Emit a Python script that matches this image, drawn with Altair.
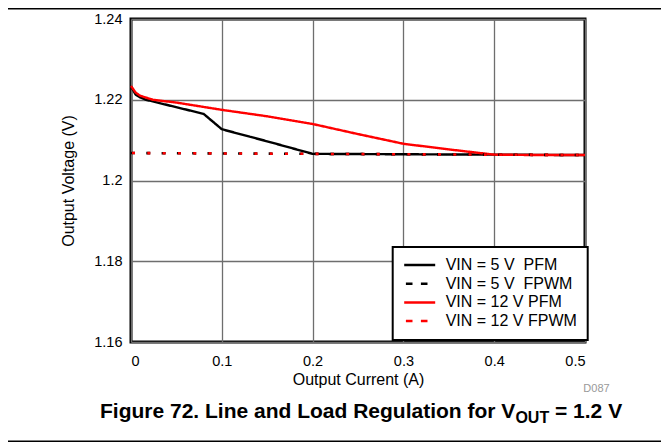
import altair as alt
import pandas as pd

# ---- data ----
cur_5v_pfm = [0.0, 0.005, 0.01, 0.0165, 0.04, 0.06, 0.08, 0.1, 0.15, 0.2, 0.3, 0.4, 0.5]
v_5v_pfm = [1.2233, 1.2213, 1.2206, 1.2200, 1.2187, 1.2176, 1.2165, 1.2127, 1.2097, 1.2066, 1.2065, 1.2064, 1.2063]

cur_12v_pfm = [0.0, 0.005, 0.01, 0.024, 0.05, 0.1, 0.15, 0.2, 0.25, 0.3, 0.35, 0.4, 0.45, 0.5]
v_12v_pfm = [1.2234, 1.2218, 1.2210, 1.2200, 1.2193, 1.2175, 1.2159, 1.2140, 1.2115, 1.2091, 1.2077, 1.2064, 1.2063, 1.2063]

cur_fpwm = [0.0, 0.1, 0.2, 0.3, 0.4, 0.5]
v_5v_fpwm = [1.2068, 1.2067, 1.2066, 1.2065, 1.2064, 1.2063]
v_12v_fpwm = [1.2068, 1.2067, 1.2066, 1.2065, 1.2064, 1.2063]

series = ["VIN = 5 V\u00a0 PFM", "VIN = 5 V\u00a0 FPWM", "VIN = 12 V PFM", "VIN = 12 V FPWM"]
series_colors = ["#000000", "#000000", "#ff0000", "#ff0000"]

x_ticks = [0, 0.1, 0.2, 0.3, 0.4, 0.5]
y_ticks = [1.16, 1.18, 1.2, 1.22, 1.24]

FONT = "Liberation Sans"

pfm = pd.DataFrame(
    {"cur": cur_5v_pfm, "v": v_5v_pfm, "series": series[0]}
)
pfm = pd.concat(
    [pfm, pd.DataFrame({"cur": cur_12v_pfm, "v": v_12v_pfm, "series": series[2]})],
    ignore_index=True,
)
fpwm5 = pd.DataFrame({"cur": cur_fpwm, "v": v_5v_fpwm})
fpwm12 = pd.DataFrame({"cur": cur_fpwm, "v": v_12v_fpwm})

xs = alt.Scale(domain=[0, 0.5], nice=False, zero=False)
ys = alt.Scale(domain=[1.16, 1.24], nice=False, zero=False)

x_enc = alt.X(
    "cur:Q",
    scale=xs,
    axis=alt.Axis(
        values=x_ticks,
        format="~g",
        title="Output Current (A)",
        titleX=227,
        titleY=29,
        titleBaseline="top",
        titleAlign="center",
        labelPadding=12,
    ),
)
y_enc = alt.Y(
    "v:Q",
    scale=ys,
    axis=alt.Axis(
        values=y_ticks,
        format="~g",
        title="Output Voltage (V)",
        titleX=-63,
        titleY=161.5,
        titleAngle=270,
        titleBaseline="middle",
        titleAlign="center",
        labelPadding=9,
    ),
)

pfm_layer = alt.Chart(pfm).mark_line(strokeWidth=2.4).encode(
    x=x_enc,
    y=y_enc,
    color=alt.Color(
        "series:N",
        scale=alt.Scale(domain=series, range=series_colors),
        legend=alt.Legend(title=None),
    ),
    strokeDash=alt.StrokeDash(
        "series:N",
        scale=alt.Scale(domain=series, range=[[1, 0], [6.6, 8.4], [1, 0], [6.6, 8.4]]),
        legend=alt.Legend(title=None),
    ),
)

fpwm5_layer = alt.Chart(fpwm5).mark_line(
    color="#000000", strokeWidth=2.6, strokeDash=[4, 11.3]
).encode(x="cur:Q", y="v:Q")

fpwm12_layer = alt.Chart(fpwm12).mark_line(
    color="#ff0000", strokeWidth=2.6, strokeDash=[3, 12.3], strokeDashOffset=-1
).encode(x="cur:Q", y="v:Q")

one = pd.DataFrame({"k": [0]})

top_rule = alt.Chart(one).mark_rule(color="#000000", strokeWidth=1.5).encode(
    x=alt.value(-123), x2=alt.value(530), y=alt.value(-10.25)
)
bottom_rule = alt.Chart(one).mark_rule(color="#000000", strokeWidth=1.5).encode(
    x=alt.value(-123), x2=alt.value(530), y=alt.value(422.25)
)

cap1 = alt.Chart(one).mark_text(
    font=FONT, fontSize=21, fontWeight="bold", align="left", baseline="alphabetic", color="#000000"
).encode(x=alt.value(-31), y=alt.value(399), text=alt.value("Figure 72. Line and Load Regulation for V"))
cap2 = alt.Chart(one).mark_text(
    font=FONT, fontSize=16, fontWeight="bold", align="left", baseline="alphabetic", color="#000000"
).encode(x=alt.value(384.4), y=alt.value(403.5), text=alt.value("OUT"))
cap3 = alt.Chart(one).mark_text(
    font=FONT, fontSize=21, fontWeight="bold", align="left", baseline="alphabetic", color="#000000"
).encode(x=alt.value(424), y=alt.value(399), text=alt.value("= 1.2 V"))
dcode = alt.Chart(one).mark_text(
    font=FONT, fontSize=11, align="center", baseline="middle", color="#999999"
).encode(x=alt.value(465.5), y=alt.value(369.5), text=alt.value("D087"))

chart = (
    alt.layer(pfm_layer, fpwm5_layer, fpwm12_layer, top_rule, bottom_rule, cap1, cap2, cap3, dcode)
    .properties(
        width=454,
        height=323,
        autosize=alt.AutoSizeParams(type="none"),
        padding={"left": 123, "top": 11, "right": 76, "bottom": 100},
    )
    .configure(font=FONT, background="#ffffff")
    .configure_view(stroke="#000000", strokeWidth=3)
    .configure_axis(
        grid=True,
        gridColor="#6e6e6e",
        gridWidth=1.3,
        domain=False,
        ticks=False,
        tickSize=0,
        labelFont=FONT,
        labelFontSize=14.5,
        labelColor="#000000",
        titleFont=FONT,
        titleFontSize=16,
        titleFontWeight="normal",
        titleColor="#000000",
    )
    .configure_legend(
        orient="none",
        legendX=261.7,
        legendY=228,
        symbolType="stroke",
        symbolSize=961,
        symbolStrokeWidth=2.5,
        symbolDashOffset=13.3,
        clipHeight=16,
        rowPadding=2.7,
        padding=10,
        labelFont=FONT,
        labelFontSize=16,
        labelColor="#000000",
        labelOffset=9,
        strokeColor="#000000",
        strokeWidth=2,
        fillColor="#ffffff",
    )
)

chart.save("out.html", embed_options={"renderer": "svg", "actions": False})
